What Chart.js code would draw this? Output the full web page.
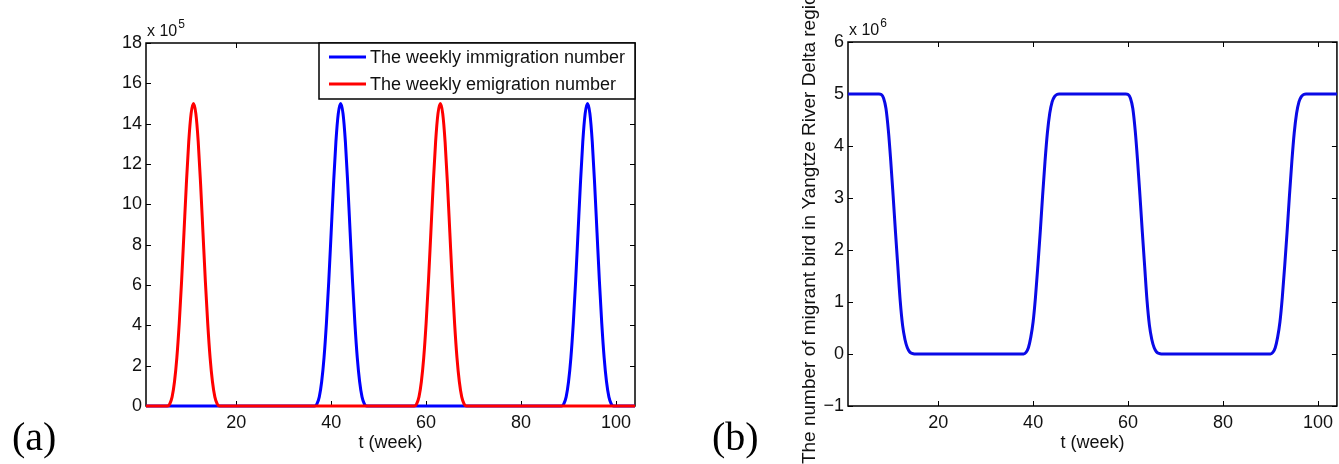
<!DOCTYPE html>
<html>
<head>
<meta charset="utf-8">
<title>Migrant birds in the Yangtze River Delta</title>
<script src="https://cdn.jsdelivr.net/npm/chart.js@4.4.1/dist/chart.umd.min.js"></script>
<style>
  html, body { margin: 0; padding: 0; background: #fff; overflow: hidden; }
  #wrap { position: relative; width: 1339px; height: 464px; }
  #flowChart { position: absolute; left: 0; top: 0; }
  #stockChart { position: absolute; left: 680px; top: 0; }
</style>
</head>
<body>
<div id="wrap">
  <canvas id="flowChart" width="670" height="464"></canvas>
  <canvas id="stockChart" width="659" height="464"></canvas>
</div>
<script>
// ---- data ----
// (a) weekly flows, in units of 1e5 birds
const immWeeks = [1,
  36.5, 37, 37.5, 38, 38.5, 39, 39.5, 40, 40.5, 41, 41.5, 42, 42.5, 43, 43.5, 44, 44.5, 45, 45.5, 46, 46.5, 47, 47.5,
  88.5, 89, 89.5, 90, 90.5, 91, 91.5, 92, 92.5, 93, 93.5, 94, 94.5, 95, 95.5, 96, 96.5, 97, 97.5, 98, 98.5, 99, 99.5,
  104];
const immigration = [0,
  0, 0.1, 0.45, 1.2, 2.4, 4.1, 6.2, 8.6, 11.0, 13.1, 14.5, 15, 14.5, 13.1, 11.0, 8.6, 6.2, 4.1, 2.4, 1.2, 0.45, 0.1, 0,
  0, 0.1, 0.45, 1.2, 2.4, 4.1, 6.2, 8.6, 11.0, 13.1, 14.5, 15, 14.5, 13.1, 11.0, 8.6, 6.2, 4.1, 2.4, 1.2, 0.45, 0.1, 0,
  0];

const emiWeeks = [1,
  5.5, 6, 6.5, 7, 7.5, 8, 8.5, 9, 9.5, 10, 10.5, 11, 11.5, 12, 12.5, 13, 13.5, 14, 14.5, 15, 15.5, 16, 16.5,
  57.5, 58, 58.5, 59, 59.5, 60, 60.5, 61, 61.5, 62, 62.5, 63, 63.5, 64, 64.5, 65, 65.5, 66, 66.5, 67, 67.5, 68, 68.5,
  104];
const emigration = [0,
  0, 0.1, 0.45, 1.2, 2.4, 4.1, 6.2, 8.6, 11.0, 13.1, 14.5, 15, 14.5, 13.1, 11.0, 8.6, 6.2, 4.1, 2.4, 1.2, 0.45, 0.1, 0,
  0, 0.1, 0.45, 1.2, 2.4, 4.1, 6.2, 8.6, 11.0, 13.1, 14.5, 15, 14.5, 13.1, 11.0, 8.6, 6.2, 4.1, 2.4, 1.2, 0.45, 0.1, 0,
  0];

// (b) birds present in the region, in units of 1e6
const popWeeks = [1,
  7.5, 8, 8.5, 9, 9.5, 10, 10.5, 11, 11.5, 12, 12.5, 13, 13.5, 14, 14.5, 15,
  38, 38.5, 39, 39.5, 40, 40.5, 41, 41.5, 42, 42.5, 43, 43.5, 44, 44.5, 45, 45.5,
  59.5, 60, 60.5, 61, 61.5, 62, 62.5, 63, 63.5, 64, 64.5, 65, 65.5, 66, 66.5, 67,
  90, 90.5, 91, 91.5, 92, 92.5, 93, 93.5, 94, 94.5, 95, 95.5, 96, 96.5, 97, 97.5,
  104];
const population = [5,
  5, 4.99, 4.92, 4.72, 4.3, 3.72, 3.05, 2.35, 1.68, 1.02, 0.55, 0.28, 0.12, 0.04, 0.01, 0,
  0, 0.03, 0.12, 0.32, 0.62, 1.1, 1.7, 2.35, 3.05, 3.7, 4.25, 4.63, 4.85, 4.95, 4.99, 5,
  5, 4.99, 4.92, 4.72, 4.3, 3.72, 3.05, 2.35, 1.68, 1.02, 0.55, 0.28, 0.12, 0.04, 0.01, 0,
  0, 0.03, 0.12, 0.32, 0.62, 1.1, 1.7, 2.35, 3.05, 3.7, 4.25, 4.63, 4.85, 4.95, 4.99, 5,
  5];

const weekTicks = [20, 40, 60, 80, 100];
const flowTicks = [0, 2, 4, 6, 8, 10, 12, 14, 16, 18];
const stockTicks = [-1, 0, 1, 2, 3, 4, 5, 6];

const SANS = '"Liberation Sans", Arial, Helvetica, sans-serif';
const toPoints = (xs, ys) => xs.map((x, i) => ({ x, y: ys[i] }));
const minus = (v) => (v < 0 ? '\u2212' + Math.abs(v) : String(v));

// ---- plugins: matlab-style box + inward ticks, exponent, panel tag ----
const boxAxes = {
  id: 'boxAxes',
  beforeDatasetsDraw(chart, args, opts) {
    const { ctx, chartArea: a, scales: { x, y } } = chart;
    const len = 5;
    ctx.save();
    ctx.strokeStyle = '#000';
    ctx.lineWidth = 1;
    ctx.beginPath();
    for (const v of opts.xTicks) {
      const px = Math.round(x.getPixelForValue(v)) + 0.5;
      ctx.moveTo(px, a.bottom); ctx.lineTo(px, a.bottom - len);
      ctx.moveTo(px, a.top);    ctx.lineTo(px, a.top + len);
    }
    for (const v of opts.yTicks) {
      const py = Math.round(y.getPixelForValue(v)) + 0.5;
      ctx.moveTo(a.left, py);  ctx.lineTo(a.left + len, py);
      ctx.moveTo(a.right, py); ctx.lineTo(a.right - len, py);
    }
    ctx.stroke();
    ctx.lineWidth = 1.5;
    ctx.strokeRect(a.left, a.top, a.right - a.left, a.bottom - a.top);

    // "x 10^n" multiplier above the y axis
    ctx.fillStyle = '#111';
    ctx.textBaseline = 'alphabetic';
    ctx.font = '16px ' + SANS;
    ctx.fillText('x 10', a.left + 1, a.top - 7);
    const w = ctx.measureText('x 10').width;
    ctx.font = '12px ' + SANS;
    ctx.fillText(opts.exponent, a.left + 2 + w, a.top - 15);

    // panel letter
    ctx.fillStyle = '#000';
    ctx.font = '40px "Liberation Serif", "Times New Roman", serif';
    ctx.fillText(opts.tag, opts.tagX, 450);
    ctx.restore();
  }
};

// boxed legend in the upper right corner
const boxLegend = {
  id: 'boxLegend',
  afterDraw(chart, args, opts) {
    if (!opts.show) return;
    const { ctx, chartArea: a } = chart;
    const left = a.right - opts.width, top = a.top;
    ctx.save();
    ctx.fillStyle = '#fff';
    ctx.fillRect(left, top, opts.width, opts.height);
    ctx.strokeStyle = '#000';
    ctx.lineWidth = 1.5;
    ctx.strokeRect(left, top, opts.width, opts.height);
    chart.data.datasets.forEach((ds, i) => {
      const cy = top + opts.rows[i];
      ctx.strokeStyle = ds.borderColor;
      ctx.lineWidth = 3;
      ctx.beginPath();
      ctx.moveTo(left + 10, cy);
      ctx.lineTo(left + 47, cy);
      ctx.stroke();
      ctx.fillStyle = '#111';
      ctx.font = '18px ' + SANS;
      ctx.textBaseline = 'middle';
      ctx.fillText(ds.label, left + 51, cy + 1);
    });
    ctx.restore();
  }
};

function baseOptions({ padTop, padRight, yWidth, yMin, yMax, yTicks, yTitle, exponent, tag, tagX, legend }) {
  return {
    responsive: false,
    animation: false,
    devicePixelRatio: 1,
    layout: { padding: { top: padTop, right: padRight, left: 0, bottom: 0 } },
    elements: { point: { radius: 0 }, line: { borderWidth: 3, cubicInterpolationMode: 'monotone' } },
    scales: {
      x: {
        type: 'linear', min: 1, max: 104,
        grid: { display: false, drawTicks: false }, border: { display: false },
        afterBuildTicks: (s) => { s.ticks = weekTicks.map(v => ({ value: v })); },
        afterFit: (s) => { s.height = 58; },
        ticks: { color: '#111', padding: 6, maxRotation: 0, font: { family: SANS, size: 18 } },
        title: { display: true, text: 't (week)', color: '#111', padding: { top: 0, bottom: 10 }, font: { family: SANS, size: 18 } }
      },
      y: {
        type: 'linear', min: yMin, max: yMax,
        grid: { display: false, drawTicks: false }, border: { display: false },
        afterBuildTicks: (s) => { s.ticks = yTicks.map(v => ({ value: v })); },
        afterFit: (s) => { s.width = yWidth; },
        ticks: { color: '#111', padding: 4, callback: minus, font: { family: SANS, size: 18 } },
        title: yTitle
          ? { display: true, text: yTitle, color: '#111', padding: { top: 118, bottom: 0 }, font: { family: SANS, size: 19 } }
          : { display: false }
      }
    },
    plugins: {
      legend: { display: false },
      tooltip: { enabled: false },
      boxAxes: { xTicks: weekTicks, yTicks, exponent, tag, tagX },
      boxLegend: legend || { show: false }
    }
  };
}

// ---- (a) weekly immigration / emigration ----
new Chart(document.getElementById('flowChart'), {
  type: 'line',
  data: {
    datasets: [
      { label: 'The weekly immigration number', data: toPoints(immWeeks, immigration),
        borderColor: '#0000ff', clip: false, order: 1 },
      { label: 'The weekly emigration number', data: toPoints(emiWeeks, emigration),
        borderColor: '#ff0000', clip: false, order: 0 }   // red sits on top of blue
    ]
  },
  options: baseOptions({
    padTop: 43, padRight: 35, yWidth: 146, yMin: 0, yMax: 18, yTicks: flowTicks,
    exponent: '5', tag: '(a)', tagX: 12,
    legend: { show: true, width: 316, height: 56, rows: [14, 41] }
  }),
  plugins: [boxAxes, boxLegend]
});

// ---- (b) birds in the region ----
new Chart(document.getElementById('stockChart'), {
  type: 'line',
  data: {
    datasets: [
      { label: 'Migrant birds', data: toPoints(popWeeks, population), borderColor: '#0a0ae6', clip: false }
    ]
  },
  options: baseOptions({
    padTop: 42, padRight: 1, yWidth: 168, yMin: -1, yMax: 6, yTicks: stockTicks,
    yTitle: 'The number of migrant bird in Yangtze River Delta region',
    exponent: '6', tag: '(b)', tagX: 32
  }),
  plugins: [boxAxes, boxLegend]
});
</script>
</body>
</html>
